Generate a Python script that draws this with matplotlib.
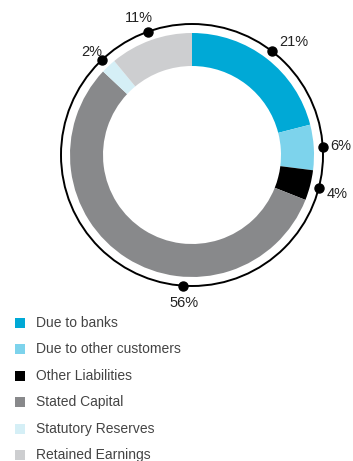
import matplotlib.pyplot as plt
import matplotlib.patches as mpatches
import numpy as np

labels = ["Due to banks", "Due to other customers", "Other Liabilities",
          "Stated Capital", "Statutory Reserves", "Retained Earnings"]
values = [21, 6, 4, 56, 2, 11]
colors = ["#00a9d6", "#7dd3ec", "#000000", "#88898b", "#d5eff6", "#cdced0"]

W, H = 353, 461
fig = plt.figure(figsize=(W / 100, H / 100), dpi=100)
ax = fig.add_axes([0, 0, 1, 1])

cx, cy = 192, H - 155
r_out, r_ring, r_in = 131, 122, 89

ax.pie(values, colors=colors, startangle=90, counterclock=False,
       center=(cx, cy), radius=r_ring, frame=True,
       wedgeprops=dict(width=r_ring - r_in, linewidth=0))
ax.set_xlim(0, W)
ax.set_ylim(0, H)
ax.set_aspect("equal")
ax.axis("off")

ax.add_patch(mpatches.Circle((cx, cy), r_out, fill=False, lw=1.4, color="black"))

# dot angles = slice midpoints, big slice's dot nudged to the bottom
cum = np.cumsum([0] + values)
mid = 90 - (cum[:-1] + cum[1:]) / 2 * 3.6
mid[3] = -94
# small hand nudges for the % labels (pixels)
nudge = [(10, -5), (0, 0), (1, -2), (2, 1), (2, -6), (-3, -3)]
for a, v, (dx, dy) in zip(mid, values, nudge):
    t = np.radians(a)
    ax.plot(cx + r_out * np.cos(t), cy + r_out * np.sin(t), "o", color="black",
            ms=6.5, zorder=5)
    ax.text(cx + 149 * np.cos(t) + dx, cy + 149 * np.sin(t) + dy, f"{v}%",
            ha="center", va="center", fontsize=10.5, family="Liberation Sans",
            color="#222222")

for i, (lab, col) in enumerate(zip(labels, colors)):
    y = H - (323 + i * 26.4)
    ax.add_patch(mpatches.Rectangle((15, y - 5), 10, 10, color=col, lw=0))
    ax.text(36, y, lab, va="center", ha="left", fontsize=10,
            family="Liberation Sans", color="#444444")

fig.savefig("out.png", dpi=100)
